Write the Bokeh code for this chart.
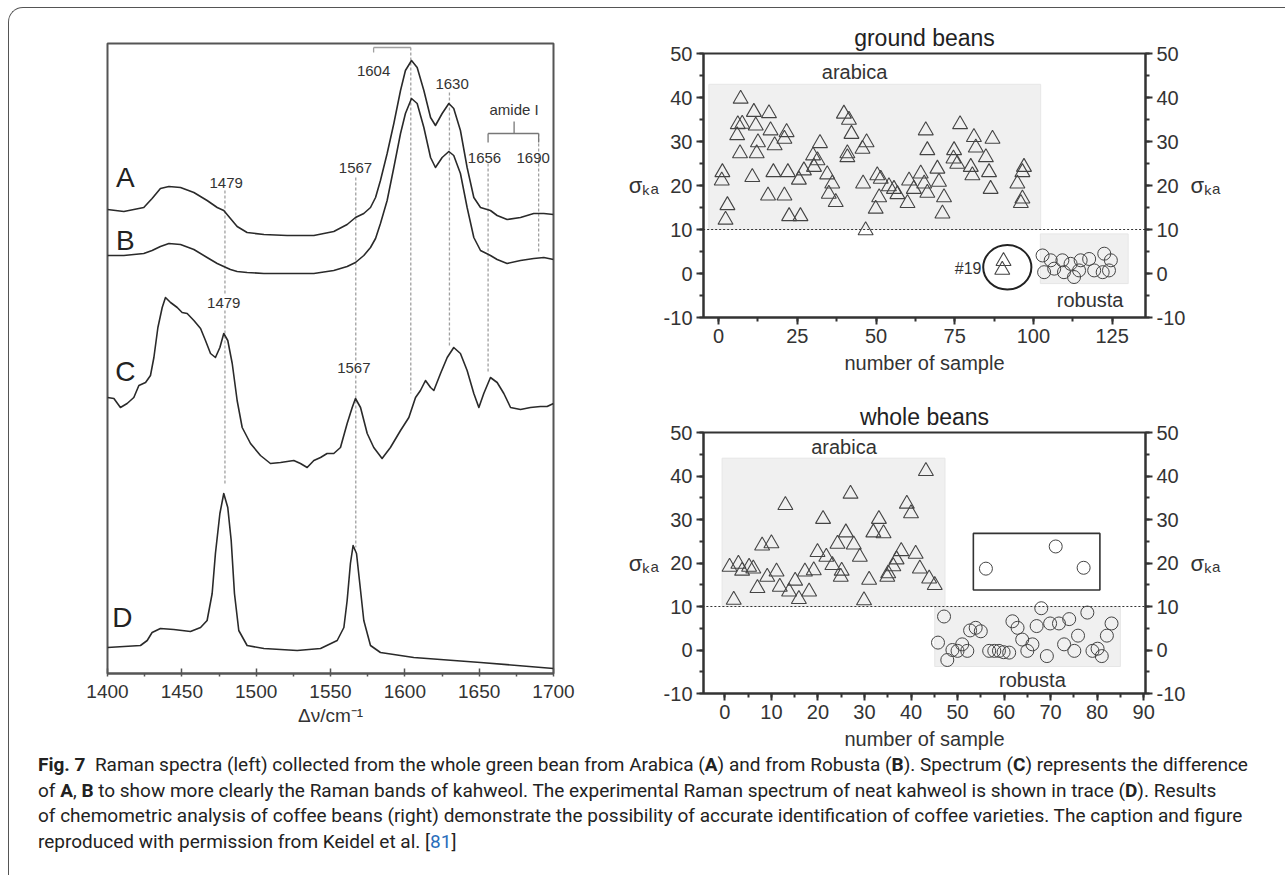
from bokeh.plotting import figure
from bokeh.models import Range1d, LinearAxis, SingleIntervalTicker, Div, PrintfTickFormatter
from bokeh.layouts import row, column
from bokeh.embed import file_html
from bokeh.resources import INLINE
from bokeh.core.properties import value

FONT = "Liberation Sans"
INK = "#333333"

# ---------------- Raman spectra (left) ----------------
wn_AB = [1400, 1411.0, 1424.4, 1430.0, 1435.6, 1441.3, 1449.1, 1458.1, 1467.0, 1473.8,
         1478.2, 1482.7, 1487.2, 1493.9, 1505.2, 1520.8, 1538.8, 1552.2, 1561.2, 1566.8,
         1572.4, 1576.9, 1580.3, 1583.6, 1588.1, 1592.6, 1597.1, 1600.4, 1604.5, 1608.3,
         1612.8, 1617.3, 1620.6, 1625.1, 1629.6, 1632.9, 1637.4, 1641.9, 1646.4, 1650.9,
         1657.6, 1662.1, 1668.8, 1677.8, 1686.7, 1693.5, 1700]
int_A = [464, 462, 466, 475, 485, 487, 486, 481, 473, 466,
         463, 455, 447, 441, 439, 438, 438, 442, 449, 456,
         460, 466, 476, 493, 520, 550, 583, 603, 613, 606,
         583, 556, 548, 560, 570, 565, 543, 506, 476, 466,
         463, 458, 454, 456, 460, 460, 459]
int_B = [418, 418, 420, 423, 427, 430, 429, 424, 416, 410,
         407, 404, 402, 401, 400, 400, 400, 403, 407, 411,
         418, 426, 435, 450, 473, 506, 540, 560, 575, 570,
         546, 516, 506, 516, 522, 518, 500, 466, 436, 423,
         418, 414, 410, 413, 415, 416, 414]
wn_C = [1400, 1404.3, 1408.7, 1413.2, 1417.7, 1421.1, 1425.6, 1428.9, 1431.2, 1433.9,
        1436.8, 1439.0, 1442.4, 1446.9, 1450.2, 1453.6, 1458.1, 1462.6, 1465.9, 1469.3,
        1472.6, 1475.6, 1478.2, 1480.9, 1483.9, 1487.2, 1490.6, 1496.2, 1502.9, 1509.6,
        1516.4, 1525.3, 1529.8, 1534.3, 1538.8, 1543.3, 1547.7, 1552.2, 1556.7, 1561.2,
        1564.6, 1566.8, 1570.2, 1574.7, 1579.1, 1584.7, 1590.3, 1597.1, 1602.7, 1607.2,
        1610.5, 1613.9, 1617.3, 1619.5, 1624.0, 1628.5, 1632.9, 1637.4, 1641.9, 1646.4,
        1649.8, 1653.1, 1657.6, 1662.1, 1666.6, 1671.1, 1677.8, 1684.5, 1691.2, 1695.7,
        1700]
int_C = [276, 275, 266, 270, 276, 288, 291, 298, 316, 346,
         366, 376, 371, 366, 361, 360, 353, 345, 333, 320,
         316, 326, 340, 333, 310, 273, 246, 230, 218, 210,
         211, 213, 210, 206, 213, 216, 220, 220, 226, 250,
         266, 275, 266, 240, 226, 215, 226, 243, 256, 276,
         283, 293, 286, 283, 300, 316, 326, 320, 303, 280,
         266, 280, 296, 291, 280, 266, 264, 266, 267, 267,
         270]
wn_D = [1400, 1422.2, 1426.7, 1430.0, 1435.6, 1444.6, 1455.8, 1462.6, 1467.0, 1470.4,
        1472.6, 1475.6, 1478.2, 1480.9, 1483.2, 1485.4, 1488.3, 1493.9, 1505.2, 1527.6,
        1543.3, 1554.5, 1559.0, 1561.2, 1563.4, 1565.2, 1567.5, 1569.7, 1572.4, 1576.9,
        1583.6, 1606.0, 1650.9, 1700]
int_D = [26, 28, 33, 41, 45, 44, 42, 46, 53, 80,
         120, 160, 180, 166, 133, 80, 43, 28, 25, 23,
         25, 33, 46, 73, 110, 128, 120, 90, 53, 28,
         21, 16, 11, 5]
band_labels = ["1479", "1567", "1604", "1630", "1656", "1690"]
band_pos = [1479, 1567, 1604, 1630, 1656, 1690]
trace_names = ["A", "B", "C", "D"]

# ---------------- chemometric results (right) ----------------
ground_ara_x = [1.2, 1.0, 2.8, 2.2, 7.0, 6.1, 7.5, 5.9, 6.8, 10.7,
                11.2, 11.8, 12.5, 12.1, 16.0, 16.5, 17.8, 15.7, 17.4, 20.9,
                21.6, 20.9, 22.0, 22.4, 26.0, 25.5, 27.1, 30.0, 32.2, 31.4,
                30.3, 34.5, 36.1, 35.0, 37.2, 39.8, 41.4, 42.2, 40.9, 40.9,
                45.7, 47.0, 45.9, 46.7, 50.4, 51.5, 51.0, 49.9, 54.1, 55.7,
                56.8, 60.0, 60.5, 62.0, 64.2, 65.8, 66.3, 65.3, 66.3, 69.5,
                70.0, 71.6, 71.1, 74.8, 76.7, 74.6, 75.8, 80.1, 81.1, 81.7,
                80.6, 84.9, 87.0, 85.9, 86.4, 94.9, 97.0, 96.5, 96.5, 96.0,
                90.5, 90.1]
ground_ara_y = [23, 21.1, 15.5, 12.2, 39.7, 33.9, 34, 31.4, 27.3, 21.9,
                36.7, 33.6, 29.8, 27.3, 36.4, 32.5, 29.1, 17.7, 23, 30.6,
                32.1, 17.7, 23, 13, 13, 21.3, 23.4, 26.8, 29.6, 25.7,
                24.2, 22.5, 20.4, 18.1, 16.2, 36.3, 34.9, 31.7, 27.3, 26.4,
                28.3, 29.8, 20.4, 9.8, 22.3, 21.5, 17.3, 14.7, 19.8, 19.2,
                18, 16, 21.1, 19.2, 22.7, 32.5, 28, 20.4, 18.3, 23.8,
                20.8, 17.3, 13.6, 28, 33.9, 26.1, 24.9, 24.2, 31, 28.6,
                22.3, 26.4, 30.6, 23, 19.2, 20.4, 24.2, 23, 17, 16,
                2.8, 0.8]
ground_rob_x = [102.9, 103.4, 105.5, 106.6, 109.2, 109.7, 112.9, 114.5, 115.0, 117.7,
                119.3, 122.5, 124.6, 124.0, 111.8, 122.0]
ground_rob_y = [4.1, 0.3, 3.0, 1.1, 3.0, 0.3, -0.8, 0.7, 3.0, 3.3,
                0.7, 4.5, 3.0, 0.7, 2.2, 0.3]

whole_ara_x = [1, 2.9, 3.7, 5.2, 6.1, 8, 10, 9.1, 7, 11.1,
               11.8, 13, 15.1, 17.2, 19.1, 19.9, 21.1, 21.8, 23.1, 25.1,
               24.2, 26, 27, 27.7, 29, 31, 31.9, 33.1, 34.1, 35.1,
               36.2, 36.9, 37.9, 39.1, 40, 41, 41.9, 43.2, 43.9, 45.1,
               1.9, 13.8, 15.9, 18.1, 29.9, 24.9, 34.9]
whole_ara_y = [19.1, 19.8, 18.2, 19.1, 18.7, 24, 24.5, 16.8, 14.2, 18,
               14.5, 33.3, 15.9, 18, 18.3, 22.5, 30.1, 21.4, 19.5, 18.2,
               24.4, 27, 35.9, 24.2, 21.4, 16.1, 27, 30.1, 26.8, 17.6,
               19.2, 20.8, 22.7, 33.6, 31.4, 22.1, 18.7, 41.1, 16.4, 14.9,
               11.5, 13.4, 11.7, 13.4, 11.4, 16.8, 16.8]
whole_rob_x = [47.1, 45.8, 47.8, 48.9, 50, 51, 52.1, 52.7, 53.9, 55,
               56.8, 57.9, 58.9, 59.9, 61.1, 61.8, 62.9, 63.9, 65, 66.1,
               67, 68, 69.2, 69.9, 71.8, 72.9, 74, 75.1, 75.9, 77.9,
               79, 80.1, 81, 82.1, 83.1, 56.1, 71.1, 77.1]
whole_rob_y = [7.7, 1.7, -2.3, 0, -0.2, 1.3, -0.2, 4.5, 5.1, 4.3,
               -0.2, -0.2, -0.2, -0.5, -0.6, 6.6, 5.1, 2.4, -0.2, 1.3,
               5.5, 9.6, -1.4, 6.1, 6.1, 1.3, 7.1, -0.2, 3.3, 8.6,
               -0.2, 0.3, -1.4, 3.3, 6.1, 18.7, 23.8, 18.9]
threshold = 10
y_label = "\u03c3\u2096\u2090"

# ================= left figure =================
left = figure(width=600, height=752, x_range=Range1d(1400, 1700), y_range=Range1d(0, 630),
              output_backend="svg", toolbar_location=None, y_axis_location=None,
              min_border_left=107, min_border_right=47, min_border_top=43, min_border_bottom=79)
left.grid.visible = False
left.outline_line_color = "#555555"
left.outline_line_width = 2
xa = left.xaxis[0]
xa.ticker = SingleIntervalTicker(interval=50, num_minor_ticks=2)
xa.axis_line_color = "#555555"; xa.axis_line_width = 2
xa.major_tick_line_color = "#555555"; xa.major_tick_line_width = 1.5
xa.minor_tick_line_color = "#555555"; xa.minor_tick_line_width = 1.5
xa.major_tick_in = 5; xa.major_tick_out = 0
xa.minor_tick_in = 0; xa.minor_tick_out = 3
xa.major_label_text_font = FONT; xa.major_label_text_font_size = "19px"
xa.major_label_text_color = INK; xa.major_label_standoff = 8
xa.axis_label = "\u0394\u03bd/cm\u207b\u00b9"
xa.axis_label_text_font = FONT; xa.axis_label_text_font_size = "19px"
xa.axis_label_text_font_style = "normal"; xa.axis_label_text_color = INK
xa.axis_label_standoff = 4

GUIDE = "#a0a0a0"
seg_x = [band_pos[0], band_pos[0], band_pos[1], band_pos[1], band_pos[2], band_pos[3], band_pos[4], band_pos[5]]
seg_y0 = [483, 363, 496, 298, 626, 581, 510, 540]
seg_y1 = [380, 188, 313, 126, 280, 326, 300, 420]
left.segment(x0=seg_x, y0=seg_y0, x1=seg_x, y1=seg_y1, line_color=GUIDE, line_width=1.3, line_dash="3 2")
left.segment(x0=[1579, 1579], y0=[626, 626], x1=[band_pos[2], 1579], y1=[626, 621],
             line_color=GUIDE, line_width=1.3)
left.segment(x0=[band_pos[4], band_pos[4], band_pos[5], 1673.5], y0=[540, 540, 540, 540],
             x1=[band_pos[5], band_pos[4], band_pos[5], 1673.5], y1=[540, 531, 531, 552],
             line_color="#777777", line_width=1.3)

for wx, wy in [(wn_AB, int_A), (wn_AB, int_B), (wn_C, int_C), (wn_D, int_D)]:
    left.line(wx, wy, line_color="#2a2a2a", line_width=1.6, line_join="round")

left.text(x=[1579, 1631.8, 1653.6, 1686.3, 1479.8, 1566.8, 1478.2, 1565.7],
          y=[603, 590, 516, 516, 491, 506, 371, 306],
          text=[band_labels[2], band_labels[3], band_labels[4], band_labels[5],
                band_labels[0], band_labels[1], band_labels[0], band_labels[1]],
          text_font=value(FONT), text_font_size="15px", text_color=INK,
          text_align="center", text_baseline="middle")
left.text(x=[1673.5], y=[564], text=["amide I"], text_font=value(FONT), text_font_size="15px",
          text_color=INK, text_align="center", text_baseline="middle")
left.text(x=[1412, 1412, 1412, 1410], y=[496, 433, 302, 56], text=trace_names,
          text_font=value(FONT), text_font_size="28px", text_color="#222222",
          text_align="center", text_baseline="middle")


# ================= right figures =================
def style_axis(ax, fs="20px"):
    ax.axis_line_color = INK; ax.axis_line_width = 2
    ax.major_tick_line_color = INK; ax.major_tick_line_width = 2
    ax.minor_tick_line_color = INK; ax.minor_tick_line_width = 2
    ax.major_tick_in = 0; ax.major_tick_out = 7
    ax.minor_tick_in = 0; ax.minor_tick_out = 4
    ax.major_label_text_font = FONT; ax.major_label_text_font_size = fs
    ax.major_label_text_color = INK
    ax.axis_label_text_font = FONT; ax.axis_label_text_font_size = fs
    ax.axis_label_text_font_style = "normal"; ax.axis_label_text_color = INK
    ax.major_label_standoff = 4
    ax.formatter = PrintfTickFormatter(format="%d")


def make_panel(title, xr, xint, height, btop, bbot):
    p = figure(width=685, height=height, x_range=Range1d(*xr), y_range=Range1d(-10, 50),
               output_backend="svg", toolbar_location=None,
               min_border_left=103, min_border_right=140, min_border_top=btop, min_border_bottom=bbot)
    p.grid.visible = False
    p.outline_line_color = INK
    p.outline_line_width = 2
    p.title.text = title
    p.title.align = "center"
    p.title.text_font = FONT
    p.title.text_font_size = "23px"
    p.title.text_font_style = "normal"
    p.title.text_color = "#222222"
    p.title.standoff = 6
    p.xaxis[0].ticker = SingleIntervalTicker(interval=xint, num_minor_ticks=2)
    p.xaxis[0].axis_label = "number of sample"
    p.yaxis[0].ticker = SingleIntervalTicker(interval=10, num_minor_ticks=2)
    ra = LinearAxis(ticker=SingleIntervalTicker(interval=10, num_minor_ticks=2))
    p.add_layout(ra, "right")
    for ax in [p.xaxis[0], p.yaxis[0], ra]:
        style_axis(ax)
    p.xaxis[0].axis_label_standoff = 6
    for ax in [p.yaxis[0], ra]:
        ax.axis_label = y_label
        ax.axis_label_orientation = "horizontal"
        ax.axis_label_text_font_size = "22px"
        ax.axis_label_standoff = 2
    return p


BOX = "#f0f0f0"
MK = "#444444"

# ground beans
top = make_panel("ground beans", (-4.8, 135.6), 25, 395, 53, 78)
top.quad(left=[-3.1, 102.2], right=[102.3, 130.1], bottom=[threshold, -2.3], top=[43, 9.0],
         fill_color=BOX, line_color="#e6e6e6")
top.line([-10, 140], [threshold, threshold], line_color=INK, line_width=1.2, line_dash="2 2")
top.scatter(ground_ara_x, ground_ara_y, marker="triangle", size=15, fill_color=None,
            line_color=MK, line_width=1.1)
top.scatter(ground_rob_x, ground_rob_y, marker="circle", size=13, fill_color=None,
            line_color=MK, line_width=1.0)
top.ellipse(x=[91.7], y=[1.4], width=[15.3], height=[10.1], fill_color=None,
            line_color="#222222", line_width=2)
top.text(x=[43.2, 118], y=[45.8, -6], text=["arabica", "robusta"], text_font=value(FONT),
         text_font_size="20px", text_color=INK, text_align="center", text_baseline="middle")
top.text(x=[83.5], y=[1.1], text=["#19"], text_font=value(FONT), text_font_size="16px",
         text_color=INK, text_align="right", text_baseline="middle")

# whole beans
bot = make_panel("whole beans", (-4.6, 90.4), 10, 357, 37, 54)
bot.quad(left=[-0.6, 45.1], right=[47.3, 85.0], bottom=[threshold, -3.8], top=[44.1, threshold],
         fill_color=BOX, line_color="#e6e6e6")
bot.line([-10, 95], [threshold, threshold], line_color=INK, line_width=1.2, line_dash="2 2")
bot.quad(left=[53.4], right=[80.6], bottom=[13.8], top=[26.8], fill_color=None,
         line_color=INK, line_width=1.6)
bot.scatter(whole_ara_x, whole_ara_y, marker="triangle", size=15, fill_color=None,
            line_color=MK, line_width=1.1)
bot.scatter(whole_rob_x, whole_rob_y, marker="circle", size=13, fill_color=None,
            line_color=MK, line_width=1.0)
bot.text(x=[25.6, 66.1], y=[46.7, -7.0], text=["arabica", "robusta"], text_font=value(FONT),
         text_font_size="20px", text_color=INK, text_align="center", text_baseline="middle")

# ================= caption =================
B = "<b>%s</b>"
cap_lines = [
    "<b>Fig.&nbsp;7</b>&nbsp; Raman spectra (left) collected from the whole green bean from Arabica (" + B % "A"
    + ") and from Robusta (" + B % "B" + "). Spectrum (" + B % "C" + ") represents the difference",
    "of " + B % "A" + ", " + B % "B" + " to show more clearly the Raman bands of kahweol. The experimental Raman "
    "spectrum of neat kahweol is shown in trace (" + B % "D" + "). Results",
    "of chemometric analysis of coffee beans (right) demonstrate the possibility of accurate identification "
    "of coffee varieties. The caption and figure",
    "reproduced with permission from Keidel et al. [<span style='color:#2a6ebb'>81</span>]",
]
cap_html = (
    "<div style='position:relative;width:1285px;height:123px;'>"
    "<div style='position:absolute;left:3px;top:-750px;width:1282px;height:873px;"
    "border-left:1px solid #555;border-top:1px solid #555;border-top-left-radius:15px;"
    "pointer-events:none;'></div>"
    "<div style='position:absolute;left:33px;top:-5px;font-family:Roboto,sans-serif;font-size:19px;"
    "line-height:25.7px;color:#222;white-space:nowrap;'>"
    + "<br>".join(cap_lines) + "</div></div>"
)
caption = Div(text=cap_html, width=1285, height=123)

root = column(row(left, column(top, bot)), caption)

open("out.html", "w").write(file_html(root, INLINE))
